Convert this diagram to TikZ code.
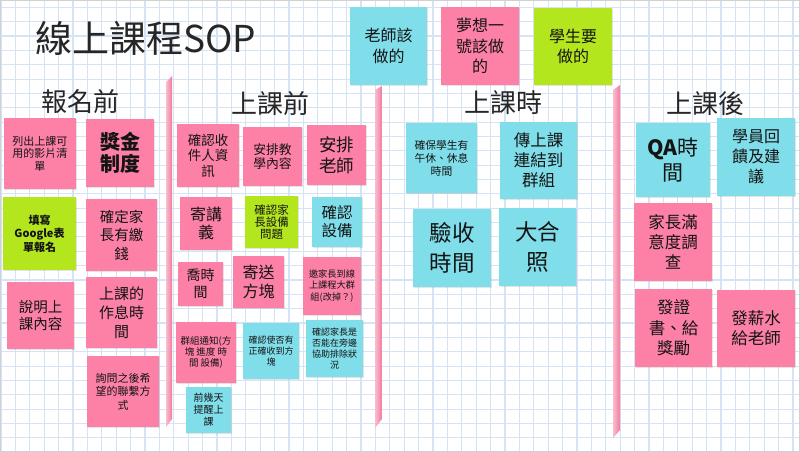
\documentclass[tikz,border=0pt]{standalone}
\usepackage{fontspec}
\setmainfont{Noto Sans CJK TC}
\usetikzlibrary{shadows}
\definecolor{pinkn}{HTML}{FD80A7}
\definecolor{cyann}{HTML}{80DEEA}
\definecolor{limen}{HTML}{B4E61E}
\definecolor{gridc}{HTML}{D5E3F6}
\definecolor{barlight}{HTML}{F9BDCD}
\definecolor{bardark}{HTML}{F27A9E}
\newcommand\fz[2]{\fontsize{#1}{#2}\selectfont}
\tikzset{
  note/.style={draw=none, inner sep=0pt, align=center, text=black!92,
    drop shadow={shadow xshift=0.8pt, shadow yshift=-1.2pt, opacity=0.2}},
  pk/.style={note, fill=pinkn},
  cy/.style={note, fill=cyann},
  lm/.style={note, fill=limen},
  wh/.style 2 args={minimum width=#1pt, minimum height=#2pt},
  hdr/.style={inner sep=0pt, font=\fz{26}{30}, text=black!85},
  divbar/.style={left color=barlight, right color=bardark, draw=none}
}
\begin{document}
\begin{tikzpicture}[x=1pt,y=-1pt]
\useasboundingbox (0,0) rectangle (800,452);
\fill[white] (0,0) rectangle (800,452);
% grid
\foreach \i in {0,...,55} \draw[gridc, line width=1.1pt] ({1+14.4*\i},0) -- ({1+14.4*\i},452);
\foreach \j in {0,...,31} \draw[gridc, line width=1.1pt] (0,{7.3+14.35*\j}) -- (800,{7.3+14.35*\j});
\draw[black!18, line width=2pt] (0,0) rectangle (800,452);
% title
\node[font=\fz{37}{40}, anchor=west, inner sep=0pt, text=black!85] (title) at (35,38) {線上課程SOP};
% headers
\node[hdr] (h1) at (80.5,101.5) {報名前};
\node[hdr] (h2) at (270,104) {上課前};
\node[hdr] (h3) at (503.5,103) {上課時};
\node[hdr] (h4) at (705,103.5) {上課後};
% dividers
\shade[divbar] (166,82) -- (172,76) -- (172,419) -- (166,427) -- cycle;
\shade[divbar] (375,90) -- (382,86) -- (382,419) -- (375,428) -- cycle;
\shade[divbar] (613,90) -- (620,85) -- (620,430) -- (613,438) -- cycle;
% legend
\node[cy, wh={77}{78}, font=\fz{16}{20.7}] (k1) at (388.5,46) {老師該\\做的};
\node[pk, wh={78}{78}, font=\fz{16}{20.7}] (k2) at (480,46) {夢想一\\號該做\\的};
\node[lm, wh={78}{77}, font=\fz{16}{20.7}] (k3) at (573,46.5) {學生要\\做的};
% 報名前
\node[pk, wh={72}{71}, font=\fz{11}{12.5}] (l1) at (40,153.5) {列出上課可\\用的影片清\\單};
\node[pk, wh={68}{68}, font=\fz{20}{22}\bfseries] (l2) at (120,153) {獎金\\制度};
\node[lm, wh={73}{73}, font=\fz{11}{13.3}\bfseries] (l3) at (39.5,233.5) {填寫\\Google表\\單報名};
\node[pk, wh={71}{72}, font=\fz{14.5}{18.5}] (l4) at (121.5,235) {確定家\\長有繳\\錢};
\node[pk, wh={67}{67}, font=\fz{14.5}{17.5}] (l5) at (40.5,315.5) {說明上\\課內容};
\node[pk, wh={71}{71}, font=\fz{15}{19}] (l6) at (121.5,312.5) {上課的\\作息時\\間};
\node[pk, wh={72}{71}, font=\fz{11}{13.3}] (l7) at (123,391.5) {詢問之後希\\望的聯繫方\\式};
% 上課前
\node[pk, wh={62}{63}, font=\fz{13.5}{15.5}] (b1) at (208,155.5) {確認收\\件人資\\訊};
\node[pk, wh={59}{59}, font=\fz{12.8}{14.5}] (b2) at (272.5,156.5) {安排教\\學內容};
\node[pk, wh={59}{60}, font=\fz{17.5}{21}] (b3) at (336.5,155) {安排\\老師};
\node[pk, wh={52}{53}, font=\fz{16}{18}] (b4) at (206,223.5) {寄講\\義};
\node[lm, wh={53}{52}, font=\fz{11.5}{12}] (b5) at (271.5,222) {確認家\\長設備\\問題};
\node[cy, wh={50}{50}, font=\fz{15.5}{18}] (b6) at (337,222) {確認\\設備};
\node[pk, wh={45}{44}, font=\fz{14}{17.3}] (b7) at (200.5,284) {喬時\\間};
\node[pk, wh={51}{52}, font=\fz{16}{18.3}] (b8) at (258.5,282) {寄送\\方塊};
\node[pk, wh={58}{58}, font=\fz{9.2}{11.7}] (b9) at (332,286) {邀家長到線\\上課程大群\\組(改掉？)};
\node[pk, wh={60}{61}, font=\fz{9.5}{10.8}] (b10) at (206,352.5) {群組通知(方\\塊 進度 時\\間 設備)};
\node[cy, wh={56}{56}, font=\fz{9}{11.3}] (b11) at (271,351) {確認使否有\\正確收到方\\塊};
\node[cy, wh={57}{57}, font=\fz{9}{11}] (b12) at (334.5,348.5) {確認家長是\\否能在旁邊\\協助排除狀\\況};
\node[cy, wh={45}{46}, font=\fz{10}{12}] (b13) at (208.5,410) {前幾天\\提醒上\\課};
% 上課時
\node[cy, wh={71}{70}, font=\fz{10.8}{13}] (c1) at (441.5,158) {確保學生有\\午休、休息\\時間};
\node[cy, wh={77}{77}, font=\fz{16.5}{20}] (c2) at (538.5,160.5) {傳上課\\連結到\\群組};
\node[cy, wh={78}{78}, font=\fz{22.5}{30}] (c3) at (452,248) {驗收\\時間};
\node[cy, wh={77}{78}, font=\fz{22.5}{30}] (c4) at (537.5,247) {大合\\照};
% 上課後
\node[cy, wh={74}{74}, font=\fz{21}{25}] (d1) at (673,160) {{\bfseries QA}時\\間};
\node[cy, wh={78}{78}, font=\fz{16}{20}] (d2) at (756,157) {學員回\\饋及建\\議};
\node[pk, wh={78}{78}, font=\fz{16.5}{20}] (d3) at (673,242) {家長滿\\意度調\\查};
\node[pk, wh={77}{78}, font=\fz{16.5}{20.5}] (d4) at (673.5,328) {發證\\書、給\\獎勵};
\node[pk, wh={78}{77}, font=\fz{16.5}{20}] (d5) at (756,328.5) {發薪水\\給老師};
\end{tikzpicture}
\end{document}
